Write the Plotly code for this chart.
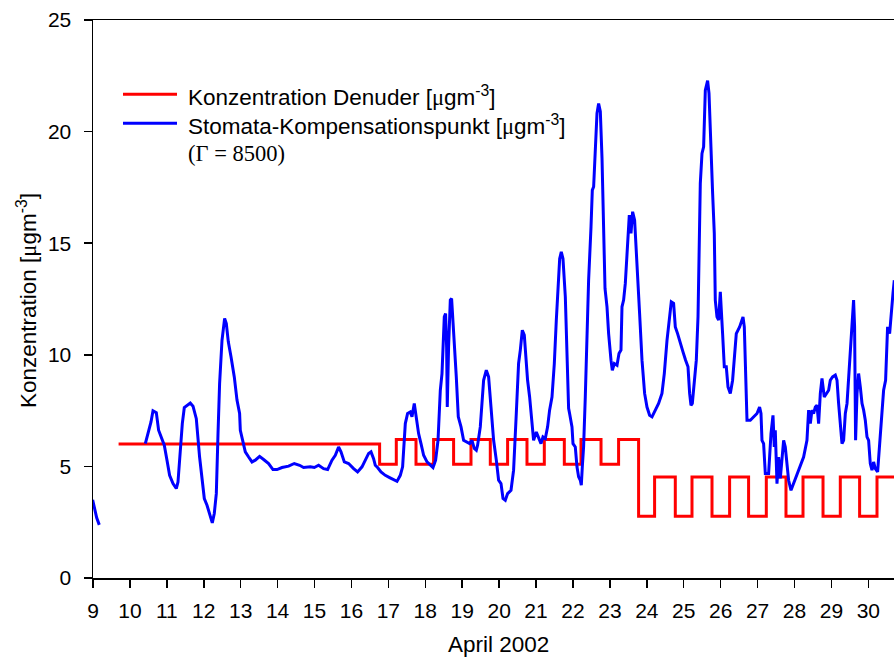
import plotly.graph_objects as go

# ---------------- data ----------------
x_ticks = list(range(9, 31))
x_tick_labels = [str(d) for d in x_ticks]
y_ticks = [0, 5, 10, 15, 20, 25]
y_tick_labels = [str(v) for v in y_ticks]

# Konzentration Denuder (step series): change times (day of April) and values
denuder_days = [9.693, 16.763, 17.215, 17.749, 18.225, 18.767, 19.238, 19.761, 20.230,
                20.755, 21.224, 21.766, 22.218, 22.760, 23.236, 23.778, 24.211, 24.772,
                25.224, 25.766, 26.243, 26.757, 27.237, 27.770, 28.231, 28.773, 29.241,
                29.764, 30.235, 31.0]
denuder_conc = [6.0, 5.1, 6.2, 5.1, 6.2, 5.1, 6.2, 5.1, 6.2,
                5.1, 6.2, 5.1, 6.2, 5.1, 6.2, 2.77, 4.53, 2.77,
                4.53, 2.77, 4.53, 2.77, 4.53, 2.77, 4.53, 2.77, 4.53,
                2.77, 4.53, 4.53]

# Stomata-Kompensationspunkt, first short piece
stomata_days_a = [8.99, 9.05, 9.10, 9.17]
stomata_conc_a = [3.50, 3.10, 2.70, 2.38]

# Stomata-Kompensationspunkt, main piece
stomata_days_b = [
    10.417, 10.479, 10.533, 10.571, 10.625, 10.715, 10.777, 10.869, 10.931, 11.004,
    11.075, 11.167, 11.256, 11.302, 11.365, 11.419, 11.473, 11.562, 11.635, 11.709,
    11.798, 11.887, 11.952, 12.015, 12.088, 12.158, 12.231, 12.285, 12.340, 12.386,
    12.429, 12.494, 12.565, 12.611, 12.665, 12.738, 12.827, 12.900, 12.971, 12.990,
    13.063, 13.125, 13.215, 13.307, 13.396, 13.512, 13.621, 13.756, 13.875, 13.984,
    14.119, 14.298, 14.452, 14.596, 14.704, 14.886, 14.994, 15.111, 15.246, 15.355,
    15.473, 15.563, 15.652, 15.717, 15.807, 15.923, 16.059, 16.167, 16.286, 16.375,
    16.465, 16.530, 16.600, 16.646, 16.708, 16.800, 16.917, 17.034, 17.234, 17.323,
    17.386, 17.459, 17.521, 17.594, 17.640, 17.702, 17.757, 17.819, 17.884, 17.955,
    18.047, 18.136, 18.209, 18.280, 18.345, 18.407, 18.453, 18.515, 18.550, 18.578,
    18.596, 18.631, 18.678, 18.713, 18.767, 18.840, 18.894, 18.968, 19.038, 19.130,
    19.200, 19.265, 19.328, 19.382, 19.417, 19.490, 19.536, 19.580, 19.653, 19.715,
    19.780, 19.851, 19.924, 19.986, 20.051, 20.105, 20.167, 20.230, 20.322, 20.392,
    20.465, 20.527, 20.574, 20.628, 20.682, 20.736, 20.771, 20.826, 20.890, 20.934,
    21.007, 21.069, 21.134, 21.188, 21.251, 21.313, 21.367, 21.432, 21.495, 21.549,
    21.595, 21.640, 21.684, 21.730, 21.793, 21.838, 21.882, 21.909, 21.974, 22.001,
    22.063, 22.109, 22.153, 22.199, 22.226, 22.253, 22.288, 22.334, 22.380, 22.424,
    22.489, 22.524, 22.560, 22.605, 22.651, 22.695, 22.741, 22.787, 22.830, 22.868,
    22.922, 22.966, 23.030, 23.066, 23.120, 23.193, 23.247, 23.301, 23.328, 23.372,
    23.418, 23.464, 23.526, 23.572, 23.616, 23.670, 23.734, 23.805, 23.870, 23.941,
    24.005, 24.076, 24.141, 24.231, 24.320, 24.411, 24.474, 24.547, 24.617, 24.663,
    24.726, 24.772, 24.834, 24.906, 24.980, 25.051, 25.116, 25.160, 25.197, 25.233,
    25.287, 25.341, 25.387, 25.422, 25.449, 25.495, 25.539, 25.585, 25.647, 25.685,
    25.720, 25.783, 25.828, 25.855, 25.901, 25.945, 25.991, 26.018, 26.053, 26.099,
    26.153, 26.199, 26.262, 26.324, 26.370, 26.424, 26.514, 26.579, 26.606, 26.641,
    26.668, 26.714, 26.803, 26.893, 26.985, 27.055, 27.093, 27.120, 27.164, 27.210,
    27.299, 27.364, 27.418, 27.453, 27.480, 27.526, 27.570, 27.616, 27.662, 27.706,
    27.751, 27.797, 27.841, 27.906, 27.976, 28.068, 28.158, 28.247, 28.338, 28.383,
    28.429, 28.474, 28.518, 28.565, 28.610, 28.654, 28.700, 28.745, 28.807, 28.881,
    28.925, 28.970, 29.032, 29.106, 29.152, 29.195, 29.241, 29.287, 29.331, 29.377,
    29.423, 29.466, 29.512, 29.558, 29.601, 29.628, 29.655, 29.694, 29.737, 29.783,
    29.829, 29.873, 29.918, 29.964, 30.008, 30.053, 30.099, 30.143, 30.189, 30.252,
    30.306, 30.371, 30.414, 30.468, 30.487, 30.522, 30.577, 30.614, 30.668, 30.704,
]
stomata_conc_b = [
    6.02, 6.40, 6.65, 6.99, 7.49, 7.41, 6.62, 6.17, 5.95, 5.28,
    4.60, 4.23, 4.01, 4.30, 5.72, 6.92, 7.64, 7.74, 7.84, 7.70,
    7.14, 5.42, 4.60, 3.56, 3.26, 2.89, 2.47, 2.89, 3.78, 6.47,
    8.71, 10.65, 11.63, 11.40, 10.58, 9.91, 9.01, 7.97, 7.37, 6.62,
    6.02, 5.65, 5.42, 5.20, 5.28, 5.45, 5.31, 5.13, 4.86, 4.86,
    4.95, 5.01, 5.13, 5.05, 4.95, 4.98, 4.95, 5.05, 4.90, 4.86,
    5.28, 5.50, 5.87, 5.65, 5.20, 5.13, 4.90, 4.75, 4.98, 5.28,
    5.58, 5.65, 5.35, 5.05, 4.95, 4.75, 4.60, 4.50, 4.33, 4.60,
    4.98, 6.92, 7.37, 7.44, 7.22, 7.82, 7.22, 6.47, 6.02, 5.50,
    5.20, 5.05, 4.95, 5.28, 6.17, 8.41, 9.16, 11.70, 11.85, 10.35,
    7.66, 10.35, 12.45, 12.52, 11.10, 9.01, 7.22, 6.77, 6.17, 6.10,
    6.02, 6.17, 5.80, 5.72, 5.95, 6.77, 8.11, 8.86, 9.31, 9.01,
    7.66, 6.17, 5.28, 4.38, 4.23, 3.56, 3.48, 3.78, 3.93, 4.83,
    7.37, 9.61, 10.21, 11.10, 10.88, 9.61, 8.86, 8.11, 6.77, 6.17,
    6.54, 6.32, 6.02, 6.32, 6.25, 6.77, 7.52, 8.11, 9.61, 11.55,
    13.20, 14.30, 14.61, 14.30, 12.60, 9.61, 7.60, 7.37, 6.77, 6.02,
    5.87, 4.98, 4.53, 4.38, 4.16, 4.98, 5.87, 8.11, 11.10, 13.34,
    15.73, 17.38, 17.53, 19.47, 20.82, 21.26, 20.90, 18.80, 15.44, 12.97,
    12.15, 10.95, 9.76, 9.31, 9.61, 9.53, 10.06, 10.21, 12.15, 12.45,
    13.20, 14.69, 16.26, 15.44, 16.41, 16.03, 14.24, 11.85, 9.76, 8.27,
    7.66, 7.29, 7.22, 7.52, 7.82, 8.27, 9.16, 10.65, 11.85, 12.37,
    12.30, 11.25, 10.95, 10.51, 10.13, 9.76, 9.46, 8.27, 7.74, 7.82,
    8.71, 9.76, 11.70, 14.24, 17.68, 19.02, 19.32, 21.86, 22.28, 21.71,
    19.77, 17.23, 15.44, 12.45, 11.70, 11.55, 12.82, 12.15, 10.95, 9.46,
    9.46, 8.56, 8.27, 8.86, 9.91, 10.95, 11.25, 11.55, 11.70, 11.25,
    9.46, 7.07, 7.07, 7.22, 7.37, 7.66, 7.37, 6.17, 6.02, 4.68,
    4.68, 6.47, 7.29, 5.87, 6.62, 4.23, 5.42, 4.46, 5.28, 6.17,
    5.87, 4.98, 4.38, 3.93, 4.23, 4.68, 4.98, 5.42, 6.17, 7.52,
    6.92, 7.52, 7.37, 7.66, 7.74, 6.92, 8.27, 8.94, 8.11, 8.27,
    8.41, 8.86, 9.01, 9.09, 8.86, 7.82, 6.77, 6.02, 6.17, 7.37,
    7.82, 9.01, 10.35, 11.55, 12.45, 11.25, 6.17, 8.27, 9.16, 8.56,
    7.82, 7.52, 7.07, 6.32, 6.17, 5.13, 4.83, 5.20, 4.90, 4.75,
    5.87, 7.37, 8.41, 8.86, 10.06, 11.25, 10.95, 11.85, 12.75, 13.34,
]

stomata_days = stomata_days_a + [None] + stomata_days_b
stomata_conc = stomata_conc_a + [None] + stomata_conc_b

# ---------------- layout geometry (window pixels) ----------------
W, H = 894, 657
PLOT_LEFT, PLOT_TOP, PLOT_BOTTOM, PLOT_RIGHT = 93, 20, 578, 894
L, T, B, R = PLOT_LEFT, PLOT_TOP, H - PLOT_BOTTOM, W - PLOT_RIGHT
PX_PER_DAY = 36.92
x_range = [9, 9 + (PLOT_RIGHT - PLOT_LEFT) / PX_PER_DAY]
y_range = [0, 25]

RED = "#ff0000"
BLUE = "#0000ff"
SANS = "Arial, 'Liberation Sans', Helvetica, sans-serif"
SERIF = "'Times New Roman', 'Liberation Serif', serif"
FS_TICK = 21
FS_TEXT = 22.5


def px_x(px):
    return (px - PLOT_LEFT) / (PLOT_RIGHT - PLOT_LEFT)


def px_y(py):
    return 1 - (py - PLOT_TOP) / (PLOT_BOTTOM - PLOT_TOP)


fig = go.Figure()
fig.add_trace(go.Scatter(x=denuder_days, y=denuder_conc, mode="lines",
                         line=dict(color=RED, width=3, shape="hv"),
                         showlegend=False, hoverinfo="skip"))
fig.add_trace(go.Scatter(x=stomata_days, y=stomata_conc, mode="lines",
                         line=dict(color=BLUE, width=3),
                         connectgaps=False, showlegend=False, hoverinfo="skip"))

# manual legend
shapes = [
    dict(type="line", xref="paper", yref="paper", x0=px_x(123), x1=px_x(177),
         y0=px_y(94.3), y1=px_y(94.3), line=dict(color=RED, width=3)),
    dict(type="line", xref="paper", yref="paper", x0=px_x(123), x1=px_x(177),
         y0=px_y(123.3), y1=px_y(123.3), line=dict(color=BLUE, width=3)),
]
mu = "<span style='font-family:Liberation Serif'>μ</span>"
annotations = [
    dict(xref="paper", yref="paper", x=px_x(186), y=px_y(96), xanchor="left", yanchor="middle",
         text="Konzentration Denuder [" + mu + "gm<sup>-3</sup>]", showarrow=False,
         font=dict(family=SANS, size=FS_TEXT, color="black")),
    dict(xref="paper", yref="paper", x=px_x(186), y=px_y(125), xanchor="left", yanchor="middle",
         text="Stomata-Kompensationspunkt [" + mu + "gm<sup>-3</sup>]", showarrow=False,
         font=dict(family=SANS, size=FS_TEXT, color="black")),
    dict(xref="paper", yref="paper", x=px_x(186), y=px_y(154), xanchor="left", yanchor="middle",
         text="(Γ = 8500)", showarrow=False,
         font=dict(family=SERIF, size=FS_TEXT, color="black")),
    # axis titles
    dict(xref="paper", yref="paper", x=px_x(498.5), y=px_y(644.5), xanchor="center", yanchor="middle",
         text="April 2002", showarrow=False, font=dict(family=SANS, size=FS_TEXT, color="black")),
    dict(xref="paper", yref="paper", x=px_x(27), y=px_y(301), xanchor="center", yanchor="middle",
         text="Konzentration [" + mu + "gm<sup>-3</sup>]", textangle=-90, showarrow=False,
         font=dict(family=SANS, size=FS_TEXT, color="black")),
]

fig.update_layout(
    width=W, height=H,
    margin=dict(l=L, r=R, t=T, b=B, pad=0, autoexpand=False),
    paper_bgcolor="white", plot_bgcolor="white",
    font=dict(family=SANS, size=FS_TICK, color="black"),
    shapes=shapes, annotations=annotations,
    showlegend=False,
)
fig.update_xaxes(range=x_range, tickmode="array", tickvals=x_ticks, ticktext=x_tick_labels,
                 ticks="outside", ticklen=8, tickwidth=1.5, tickcolor="black",
                 ticklabelstandoff=5,
                 showline=True, linecolor="black", linewidth=1.5, mirror=True,
                 showgrid=False, zeroline=False, fixedrange=True, automargin=False,
                 tickfont=dict(family=SANS, size=FS_TICK, color="black"))
fig.update_yaxes(range=y_range, tickmode="array", tickvals=y_ticks, ticktext=y_tick_labels,
                 ticks="outside", ticklen=8, tickwidth=1.5, tickcolor="black",
                 ticklabelstandoff=8,
                 showline=True, linecolor="black", linewidth=1.5, mirror=False,
                 showgrid=False, zeroline=False, fixedrange=True, automargin=False,
                 tickfont=dict(family=SANS, size=FS_TICK, color="black"))

# remove the browser's default 8px page margin so the figure fills the window exactly
fig.write_html("out.html",
               config={"displayModeBar": False, "staticPlot": True},
               post_script="document.body.style.margin='0';document.body.style.overflow='hidden';")
